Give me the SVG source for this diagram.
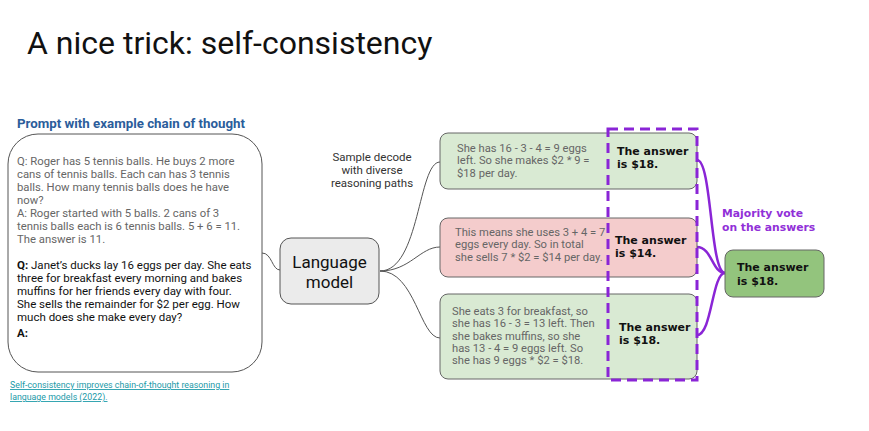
<svg xmlns="http://www.w3.org/2000/svg" width="869" height="431" viewBox="0 0 869 431">
<style>
.title{font-family:Roboto,"Liberation Sans",sans-serif;font-size:32px;fill:#111}
.head{font-family:Roboto,"Liberation Sans",sans-serif;font-size:13.3px;font-weight:bold;fill:#2b5d9b}
.gray{font-family:Roboto,"Liberation Sans",sans-serif;font-size:11.3px;fill:#666}
.gs{font-family:Roboto,"Liberation Sans",sans-serif;font-size:11.2px;fill:#666}
.blk{font-family:Roboto,"Liberation Sans",sans-serif;font-size:11.5px;fill:#111}
.ans{font-family:"DejaVu Sans",sans-serif;font-size:11px;font-weight:bold;fill:#111}
.vote{font-family:"DejaVu Sans",sans-serif;font-size:10.8px;font-weight:bold;fill:#9130d8}
.small{font-family:Roboto,"Liberation Sans",sans-serif;font-size:11.5px;fill:#333}
.link{font-family:Roboto,"Liberation Sans",sans-serif;font-size:8.8px;fill:#1b9aa8;text-decoration:underline}
.lm{font-family:Roboto,"Liberation Sans",sans-serif;font-size:17px;fill:#111}
.box{stroke:#666;stroke-width:1}
.conn{fill:none;stroke:#555;stroke-width:1}
.pconn{fill:none;stroke:#8a25d6;stroke-width:2.5}
</style>
<rect width="869" height="431" fill="#fff"/>
<text class="title" x="27" y="54">A nice trick: self-consistency</text>
<text class="head" x="17" y="128">Prompt with example chain of thought</text>
<g id="prompt">
<rect x="8" y="134" width="254" height="238" rx="30" fill="#fff" stroke="#555" stroke-width="1"/>
<text class="gray" x="17" y="165">Q: Roger has 5 tennis balls. He buys 2 more</text>
<text class="gray" x="17" y="178">cans of tennis balls. Each can has 3 tennis</text>
<text class="gray" x="17" y="191">balls. How many tennis balls does he have</text>
<text class="gray" x="17" y="204">now?</text>
<text class="gray" x="17" y="217">A: Roger started with 5 balls. 2 cans of 3</text>
<text class="gray" x="17" y="230">tennis balls each is 6 tennis balls. 5 + 6 = 11.</text>
<text class="gray" x="17" y="243">The answer is 11.</text>
<text class="blk" x="17" y="269"><tspan font-weight="bold">Q:</tspan> Janet’s ducks lay 16 eggs per day. She eats</text>
<text class="blk" x="17" y="282">three for breakfast every morning and bakes</text>
<text class="blk" x="17" y="295">muffins for her friends every day with four.</text>
<text class="blk" x="17" y="308">She sells the remainder for $2 per egg. How</text>
<text class="blk" x="17" y="321">much does she make every day?</text>
<text class="blk" x="17" y="337" font-weight="bold">A:</text>
</g>
<text class="link" x="10" y="388">Self-consistency improves chain-of-thought reasoning in</text>
<text class="link" x="10" y="400">language models (2022).</text>
<g id="connectors">
<path class="conn" d="M262,253 C272,253 272,270 280,270"/>
<path class="conn" d="M380,271 C420,271 418,162 440,162"/>
<path class="conn" d="M380,271 C410,271 420,247 440,247"/>
<path class="conn" d="M380,271 C415,271 420,338 440,338"/>
<path class="pconn" d="M697,160 C712,160 710,273 725,273"/>
<path class="pconn" d="M697,247 C712,247 712,273 725,273"/>
<path class="pconn" d="M697,335 C712,335 712,273 725,273"/>
</g>
<g id="lm">
<rect x="280" y="238" width="99" height="66" rx="11" fill="#ebebeb" stroke="#555" stroke-width="1"/>
<text class="lm" x="329.5" y="268" text-anchor="middle">Language</text>
<text class="lm" x="329.5" y="288" text-anchor="middle">model</text>
</g>
<g id="sample-label">
<text class="small" x="372" y="161" text-anchor="middle">Sample decode</text>
<text class="small" x="372" y="174" text-anchor="middle">with diverse</text>
<text class="small" x="372" y="187" text-anchor="middle">reasoning paths</text>
</g>
<g id="path1">
<rect class="box" x="440" y="133" width="257" height="56" rx="8" fill="#d9ead3"/>
<text class="gs" x="457" y="152">She has 16 - 3 - 4 = 9 eggs</text>
<text class="gs" x="457" y="164.3">left. So she makes $2 * 9 =</text>
<text class="gs" x="457" y="176.6">$18 per day.</text>
<text class="ans" x="617" y="155">The answer</text>
<text class="ans" x="617" y="168">is $18.</text>
</g>
<g id="path2">
<rect class="box" x="440" y="218" width="257" height="59" rx="8" fill="#f4cccc"/>
<text class="gs" x="455" y="236">This means she uses 3 + 4 = 7</text>
<text class="gs" x="455" y="248.3">eggs every day. So in total</text>
<text class="gs" x="455" y="260.6">she sells 7 * $2 = $14 per day.</text>
<text class="ans" x="615" y="244">The answer</text>
<text class="ans" x="615" y="257">is $14.</text>
</g>
<g id="path3">
<rect class="box" x="440" y="294" width="257" height="85" rx="8" fill="#d9ead3"/>
<text class="gs" x="452" y="315">She eats 3 for breakfast, so</text>
<text class="gs" x="452" y="327.3">she has 16 - 3 = 13 left. Then</text>
<text class="gs" x="452" y="339.6">she bakes muffins, so she</text>
<text class="gs" x="452" y="351.9">has 13 - 4 = 9 eggs left. So</text>
<text class="gs" x="452" y="364.2">she has 9 eggs * $2 = $18.</text>
<text class="ans" x="619" y="331">The answer</text>
<text class="ans" x="619" y="344">is $18.</text>
</g>
<g id="answers-group">
<rect x="608" y="129" width="89" height="251" fill="none" stroke="#8a25d6" stroke-width="3" stroke-dasharray="10,6"/>
</g>
<g id="vote-label">
<text class="vote" x="722" y="217">Majority vote</text>
<text class="vote" x="722" y="231">on the answers</text>
</g>
<g id="final">
<rect class="box" x="725" y="250" width="99" height="47" rx="8" fill="#93c47d"/>
<text class="ans" x="737" y="271">The answer</text>
<text class="ans" x="737" y="285">is $18.</text>
</g>
</svg>
